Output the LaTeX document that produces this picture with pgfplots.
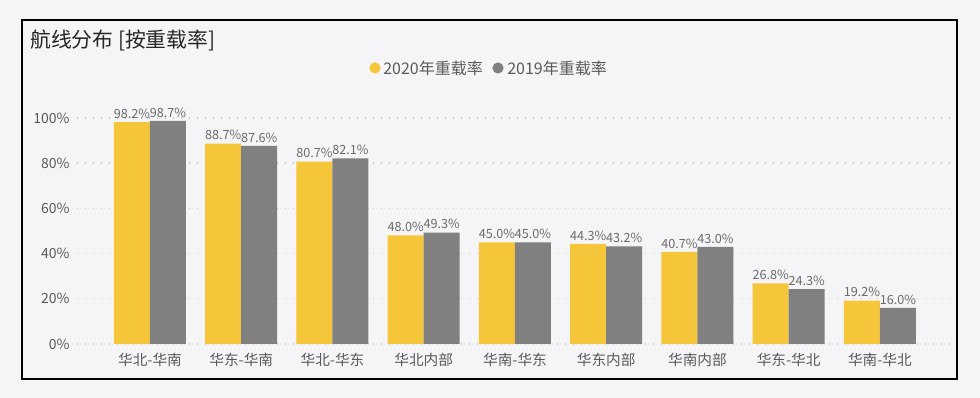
\documentclass[border=0pt]{standalone}
\usepackage{pgfplots}
\pgfplotsset{compat=1.18}
\usepackage{fontspec}
\setmainfont{Noto Sans CJK SC}
\definecolor{bg}{HTML}{F5F5F7}
\definecolor{yel}{HTML}{F6C63A}
\definecolor{gry}{HTML}{808080}
\definecolor{txt}{HTML}{5A5A5A}
\definecolor{gridc}{HTML}{C4C4C4}
\pgfplotsset{/pgf/number format/assume math mode=true}
\begin{document}
\begin{tikzpicture}
\fill[bg] (0,0) rectangle (735pt,298.5pt);
\useasboundingbox (0,0) rectangle (735pt,298.5pt);
\draw[black, line width=1.1pt] (16.5pt,14.25pt) rectangle (717.75pt,283.5pt);
\node[anchor=west, text=black!85, font=\fontsize{15.6pt}{18pt}\selectfont, inner sep=0pt] at (22.5pt,268.5pt) {航线分布 [按重载率]};
% legend
\fill[yel] (281.25pt,247.5pt) circle (4.2pt);
\node[anchor=west, text=txt, font=\fontsize{12pt}{14pt}\selectfont, inner sep=0pt] at (287.25pt,247.5pt) {2020年重载率};
\fill[gry] (373.5pt,247.5pt) circle (4.2pt);
\node[anchor=west, text=txt, font=\fontsize{12pt}{14pt}\selectfont, inner sep=0pt] at (380.25pt,247.5pt) {2019年重载率};
\begin{axis}[
  at={(57.75pt,40.5pt)}, anchor=south west,
  scale only axis, width=656.25pt, height=178pt,
  xmin=-0.8, xmax=8.79, ymin=0, ymax=105,
  ybar=0pt, bar width=27pt,
  axis line style={draw=none},
  major tick length=0pt,
  xtick={0,...,8},
  xticklabels={华北-华南,华东-华南,华北-华东,华北内部,华南-华东,华东内部,华南内部,华东-华北,华南-华北},
  x tick label style={text=txt, font=\fontsize{11pt}{13pt}\selectfont, yshift=-3pt},
  ytick={0,20,40,60,80,100},
  yticklabel={\pgfmathprintnumber{\tick}\%},
  y tick label style={text=txt, font=\fontsize{10.5pt}{12pt}\selectfont, xshift=-2pt},
  xmajorgrids=false, ymajorgrids=true,
  major grid style={draw=gridc, dash pattern=on 1pt off 5pt, line width=1pt},
  nodes near coords={\pgfmathprintnumber[fixed,fixed zerofill,precision=1]{\pgfplotspointmeta}\%},
  every node near coord/.append style={text=txt!90, font=\fontsize{9.5pt}{11pt}\selectfont, inner sep=1.5pt, yshift=1pt},
  clip=false,
]
\addplot[fill=yel, draw=none] coordinates {(0,98.2) (1,88.7) (2,80.7) (3,48.0) (4,45.0) (5,44.3) (6,40.7) (7,26.8) (8,19.2)};
\addplot[fill=gry, draw=none] coordinates {(0,98.7) (1,87.6) (2,82.1) (3,49.3) (4,45.0) (5,43.2) (6,43.0) (7,24.3) (8,16.0)};
\end{axis}
\end{tikzpicture}
\end{document}
